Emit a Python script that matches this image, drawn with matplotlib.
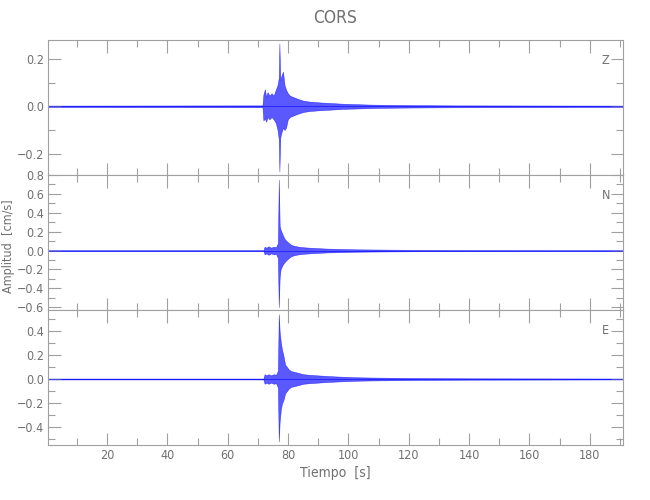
import matplotlib
matplotlib.use("Agg")
import matplotlib.pyplot as plt
from matplotlib.ticker import MultipleLocator, FuncFormatter
import numpy as np

# envelope of each trace (upper / lower peaks), in cm/s
t_z = [0.4, 71.5, 71.8, 72.3, 72.7, 73.2, 73.8, 74.5, 75.2, 75.9, 76.5, 76.9, 77.1, 77.4, 77.8,
       78.3, 78.8, 79.3, 79.9, 80.6, 81.5, 82.5, 83.5, 85, 87, 89, 91, 94, 98, 103, 108, 114,
       122, 135, 191]
up_z = [0.003, 0.004, 0.05, 0.072, 0.04, 0.06, 0.045, 0.055, 0.045, 0.07, 0.09, 0.12, 0.265,
        0.11, 0.13, 0.146, 0.09, 0.07, 0.055, 0.045, 0.04, 0.035, 0.03, 0.024, 0.02, 0.018,
        0.016, 0.014, 0.011, 0.009, 0.007, 0.006, 0.005, 0.004, 0.003]
lo_z = [-0.003, -0.004, -0.06, -0.05, -0.065, -0.045, -0.055, -0.045, -0.055, -0.07, -0.1,
        -0.14, -0.275, -0.13, -0.11, -0.09, -0.1, -0.09, -0.055, -0.045, -0.04, -0.035, -0.03,
        -0.024, -0.02, -0.018, -0.016, -0.014, -0.011, -0.009, -0.007, -0.006, -0.005, -0.004,
        -0.003]

t_n = [0.4, 71.8, 72.2, 72.8, 73.5, 74.3, 75.2, 76.0, 76.6, 76.9, 77.2, 77.5, 77.9, 78.4,
       78.9, 79.5, 80.2, 81, 82, 83.5, 85, 87, 90, 93, 97, 102, 108, 115, 125, 140, 191]
up_n = [0.005, 0.005, 0.04, 0.03, 0.045, 0.03, 0.04, 0.035, 0.08, 0.75, 0.26, 0.22, 0.19,
        0.15, 0.12, 0.1, 0.08, 0.06, 0.05, 0.04, 0.035, 0.03, 0.025, 0.02, 0.017, 0.013,
        0.011, 0.009, 0.007, 0.006, 0.005]
lo_n = [-0.005, -0.005, -0.04, -0.03, -0.045, -0.03, -0.04, -0.035, -0.08, -0.6, -0.28,
        -0.2, -0.17, -0.14, -0.12, -0.1, -0.08, -0.06, -0.05, -0.04, -0.035, -0.03, -0.025,
        -0.02, -0.017, -0.013, -0.011, -0.009, -0.007, -0.006, -0.005]

t_e = [0.4, 71.8, 72.2, 72.8, 73.5, 74.3, 75.2, 76.0, 76.6, 76.9, 77.2, 77.6, 78.0, 78.4,
       79.0, 79.6, 80.2, 81, 82, 83.5, 85, 87, 90, 93, 97, 102, 108, 115, 125, 140, 191]
up_e = [0.004, 0.004, 0.04, 0.03, 0.04, 0.03, 0.04, 0.035, 0.07, 0.54, 0.39, 0.3, 0.24,
        0.2, 0.12, 0.1, 0.08, 0.065, 0.06, 0.05, 0.04, 0.035, 0.03, 0.025, 0.02, 0.015,
        0.012, 0.01, 0.008, 0.006, 0.004]
lo_e = [-0.004, -0.004, -0.04, -0.03, -0.04, -0.03, -0.04, -0.035, -0.07, -0.52, -0.35,
        -0.25, -0.2, -0.18, -0.12, -0.1, -0.08, -0.065, -0.06, -0.05, -0.04, -0.035, -0.03,
        -0.025, -0.02, -0.015, -0.012, -0.01, -0.008, -0.006, -0.004]

components = ["Z", "N", "E"]
traces = [(t_z, up_z, lo_z), (t_n, up_n, lo_n), (t_e, up_e, lo_e)]
ylims = [(-0.29, 0.28), (-0.63, 0.8), (-0.55, 0.575)]

GRAY = "#a0a0a0"
TXT = "#707070"
plt.rcParams["font.family"] = ["DejaVu Sans"]
plt.rcParams["font.stretch"] = "condensed"

fig = plt.figure(figsize=(6.5, 5), dpi=100)
left, right = 48 / 650, 623 / 650
tops = [40, 175, 310]
height = 135

fmt = FuncFormatter(lambda v, pos: f"{v:.1f}".replace("-", "\u2212"))

axes = []
for i, comp in enumerate(components):
    ax = fig.add_axes([left, 1 - (tops[i] + height) / 500, right - left, height / 500])
    t, up, lo = traces[i]
    ax.fill_between(t, lo, up, color="#0000ff", alpha=0.65, lw=0.4)
    ax.plot(t, np.zeros(len(t)), color="#0000ff", lw=0.5, alpha=0.8)
    ax.set_xlim(0.4, 191)
    ax.set_ylim(*ylims[i])
    ax.xaxis.set_major_locator(MultipleLocator(20))
    ax.xaxis.set_minor_locator(MultipleLocator(10))
    ax.yaxis.set_major_locator(MultipleLocator(0.2))
    ax.yaxis.set_minor_locator(MultipleLocator(0.1))
    ax.yaxis.set_major_formatter(fmt)
    ax.tick_params(which="both", direction="in", top=True, right=True, color=GRAY,
                   labelcolor=TXT, labelsize=9, width=0.8, pad=3)
    ax.tick_params(which="major", length=9)
    ax.tick_params(which="minor", length=5)
    for s in ax.spines.values():
        s.set_color(GRAY)
        s.set_linewidth(0.8)
    if i < 2:
        ax.tick_params(labelbottom=False)
    ax.text(0.97, 0.85, comp, transform=ax.transAxes, color=TXT, fontsize=9,
            ha="center", va="center")
    axes.append(ax)

axes[1].set_ylabel("Amplitud  [cm/s]", color=TXT, fontsize=9)
axes[1].yaxis.set_label_coords(-0.058, 0.47)
axes[2].set_xlabel("Tiempo  [s]", color=TXT, fontsize=10, labelpad=3)
axes[0].set_title("CORS", color=TXT, fontsize=12.5, pad=12)

fig.savefig("out.png", dpi=100, facecolor="white")
